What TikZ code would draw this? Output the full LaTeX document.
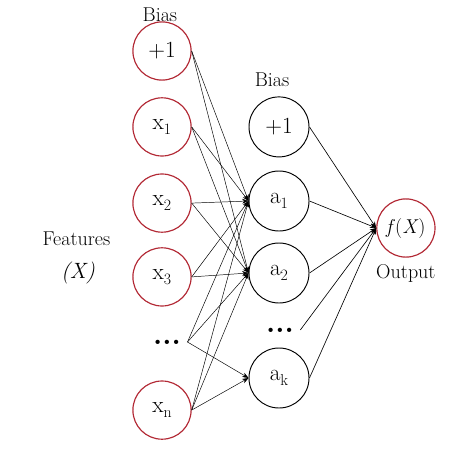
\documentclass[tikz,border=0pt]{standalone}
\usetikzlibrary{arrows.meta}
\definecolor{nodered}{RGB}{178,40,52}
\newcommand{\lowsub}[2]{#1\raisebox{-0.5ex}{\fontsize{15}{18}\selectfont#2}}

\begin{document}
\begin{tikzpicture}[
	innode/.style={circle, draw=nodered, line width=1.1pt, minimum size=1.94cm, inner sep=0pt, font=\fontsize{22}{26}\selectfont},
	hidnode/.style={circle, draw=black, line width=0.9pt, minimum size=2cm, inner sep=0pt, font=\fontsize{22}{26}\selectfont},
	lbl/.style={font=\fontsize{19}{23}\selectfont},
	dotsnode/.style={font=\fontsize{28}{32}\selectfont\bfseries, inner ysep=1pt, inner xsep=6pt},
	conn/.style={line width=0.45pt, -{Stealth[length=6pt,width=4.5pt]}}
]
\useasboundingbox (0,0) rectangle (15.8,-15.1);
%input layer
\node[innode] (b0) at (5.40,-1.70) {+1};
\node[innode] (x1) at (5.40,-4.23) {\lowsub{x}{1}};
\node[innode] (x2) at (5.40,-6.77) {\lowsub{x}{2}};
\node[innode] (x3) at (5.40,-9.23) {\lowsub{x}{3}};
\node[dotsnode] (xd) at (5.57,-11.40) {...};
\node[innode] (xn) at (5.40,-13.67) {\lowsub{x}{n}};
%hidden layer
\node[hidnode] (h0) at (9.30,-4.23) {+1};
\node[hidnode] (a1) at (9.30,-6.70) {\lowsub{a}{1}};
\node[hidnode] (a2) at (9.30,-9.10) {\lowsub{a}{2}};
\node[dotsnode] (hd) at (9.33,-11.00) {...};
\node[hidnode] (ak) at (9.30,-12.60) {\lowsub{a}{k}};
%output
\node[innode, font=\fontsize{19}{23}\selectfont] (out) at (13.53,-7.60) {\textit{f}(\textit{X})};
%labels
\node[lbl] (bias1) at (5.33,-0.50) {Bias};
\node[lbl] (bias2) at (9.07,-2.67) {Bias};
\node[lbl] (feat) at (2.55,-7.97) {Features};
\node[font=\fontsize{21}{25}\selectfont\itshape] (featx) at (2.60,-9.10) {(X)};
\node[lbl] (outlbl) at (13.53,-9.10) {Output};
%input to hidden
\foreach \i in {b0,x1,x2,x3,xd,xn}{
	\draw[conn] (\i.east) -- (a1.west);
	\draw[conn] (\i.east) -- (a2.west);
	}
\foreach \i in {xd,xn}
	\draw[conn] (\i.east) -- (ak.west);
%hidden to output
\foreach \i in {h0,a1,a2,hd,ak}
	\draw[conn, line width=0.6pt] (\i.east) -- (out.west);
\end{tikzpicture}
\end{document}
